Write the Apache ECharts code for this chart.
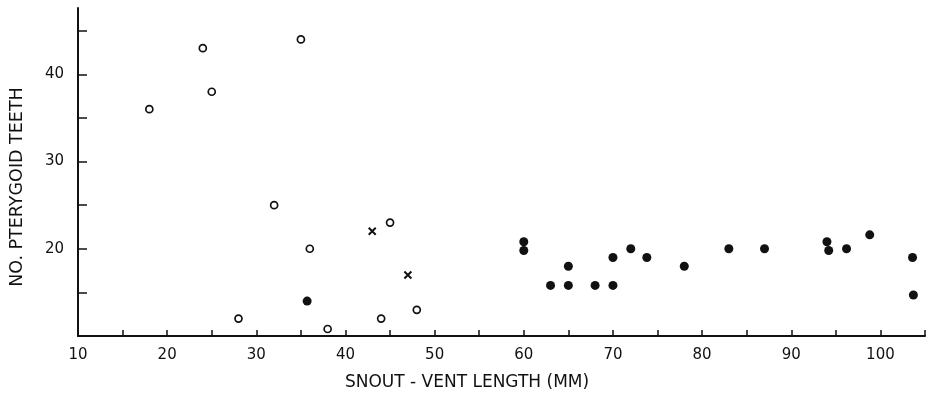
<!DOCTYPE html>
<html>
<head>
<meta charset="utf-8">
<style>html,body{margin:0;padding:0;background:#fff}#c{width:934px;height:393px}</style>
<script src="https://cdn.jsdelivr.net/npm/echarts@6/dist/echarts.min.js"></script>
</head>
<body>
<div id="c"></div>
<script>
// Open circles: [snout-vent length (mm), pterygoid teeth]
const openCircles = [[18,36],[24,43],[25,38],[35,44],[32,25],[36,20],[28,12],[38,10.8],[44,12],[45,23],[48,13]];
// Crosses
const crosses = [[43,22],[47,17]];
// Filled dots
const filledDots = [[35.7,14],[60,20.8],[60,19.8],[63,15.8],[65,18],[65,15.8],[68,15.8],[70,19],[70,15.8],[72,20],[73.8,19],[78,18],[83,20],[87,20],[94,20.8],[94.2,19.8],[96.2,20],[98.8,21.6],[103.6,19],[103.7,14.7]];
const xTicks = [15,20,25,30,35,40,45,50,55,60,65,70,75,80,85,90,95,100,105];
const xLabels = [10,20,30,40,50,60,70,80,90,100];
const yTicks = [15,20,25,30,35,40,45];
const yLabels = [20,30,40];
const xTitle = 'SNOUT - VENT LENGTH (MM)';
const yTitle = 'NO. PTERYGOID TEETH';

const ink = '#111';
const font = 'DejaVu Sans';
const chart = echarts.init(document.getElementById('c'));
chart.setOption({
  animation: false,
  backgroundColor: '#fff',
  grid: {left: 78, right: 9, top: 8, bottom: 57},
  xAxis: {
    type: 'value', min: 10, max: 105, interval: 5,
    axisLine: {lineStyle: {color: ink, width: 2}},
    axisTick: {inside: true, length: 6, lineStyle: {color: ink, width: 1.5}, customValues: xTicks},
    axisLabel: {customValues: xLabels, color: ink, fontFamily: font, fontSize: 15, margin: 12},
    splitLine: {show: false}
  },
  yAxis: {
    type: 'value', min: 10, max: 47.6, interval: 5,
    axisLine: {show: true, lineStyle: {color: ink, width: 2}},
    axisTick: {show: true, inside: true, length: 9, lineStyle: {color: ink, width: 1.5}, customValues: yTicks},
    axisLabel: {customValues: yLabels, color: ink, fontFamily: font, fontSize: 15, margin: 14},
    splitLine: {show: false}
  },
  graphic: [
    {type: 'text', x: 467, y: 383, style: {text: xTitle, fill: ink, font: '17px "DejaVu Sans"', textAlign: 'center', textVerticalAlign: 'middle'}},
    {type: 'text', x: 17, y: 187, rotation: Math.PI / 2, style: {text: yTitle, fill: ink, font: '17.5px "DejaVu Sans"', textAlign: 'center', textVerticalAlign: 'middle'}}
  ],
  series: [
    {type: 'scatter', data: openCircles, symbol: 'circle', symbolSize: 7,
     itemStyle: {color: '#fff', borderColor: ink, borderWidth: 1.7, opacity: 1}},
    {type: 'scatter', data: crosses, symbol: 'path://M0,0L10,10M10,0L0,10', symbolSize: 7,
     itemStyle: {color: 'none', borderColor: ink, borderWidth: 2, opacity: 1}},
    {type: 'scatter', data: filledDots, symbol: 'circle', symbolSize: 9,
     itemStyle: {color: ink, opacity: 1}}
  ]
});
</script>
</body>
</html>
